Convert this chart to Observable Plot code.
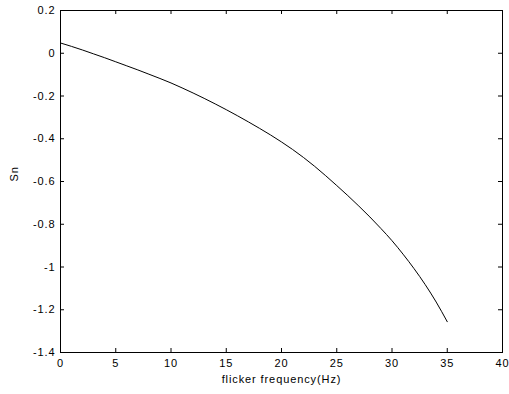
<!DOCTYPE html>
<html>
<head>
<meta charset="utf-8">
<script src="https://cdn.jsdelivr.net/npm/d3@7"></script>
<script src="https://cdn.jsdelivr.net/npm/@observablehq/plot@0.6"></script>
<style>
  html, body { margin: 0; padding: 0; background: #fff; }
  #chart { width: 509px; height: 394px; }
  #chart text { letter-spacing: 0.9px; }
</style>
</head>
<body>
<div id="chart"></div>
<script>
const freq = [0,1,2,3,4,5,6,7,8,9,10,11,12,13,14,15,16,17,18,19,20,21,22,23,24,25,26,27,28,29,30,31,32,33,34,35];
const sn = [0.048,0.032,0.015,-0.003,-0.021,-0.040,-0.059,-0.078,-0.098,-0.118,-0.139,-0.162,-0.186,-0.211,-0.237,-0.264,-0.292,-0.321,-0.351,-0.382,-0.415,-0.450,-0.488,-0.529,-0.573,-0.619,-0.666,-0.715,-0.766,-0.820,-0.877,-0.940,-1.008,-1.082,-1.164,-1.256];
const xTicks = [0,5,10,15,20,25,30,35,40];
const yTicks = [0.2,0,-0.2,-0.4,-0.6,-0.8,-1,-1.2,-1.4];
const xLabel = "flicker frequency(Hz)";
const yLabel = "Sn";

const data = freq.map((f, i) => ({f, s: sn[i]}));
const W = 509, H = 394;
const mL = 60, mR = 7, mT = 10, mB = 42;
const innerH = H - mT - mB, innerW = W - mL - mR;
const tickLen = 4;

const chart = Plot.plot({
  width: W,
  height: H,
  marginLeft: mL,
  marginRight: mR,
  marginTop: mT,
  marginBottom: mB,
  style: {fontFamily: "'Liberation Sans', Arial, sans-serif", fontSize: "11px", color: "#000", background: "#fff"},
  x: {domain: [0, 40], ticks: xTicks},
  y: {domain: [-1.4, 0.2], ticks: yTicks},
  marks: [
    Plot.frame({stroke: "#000"}),
    Plot.tickX(xTicks, {x: d => d, stroke: "#000", insetTop: innerH - tickLen}),
    Plot.tickX(xTicks, {x: d => d, stroke: "#000", insetBottom: innerH - tickLen}),
    Plot.tickY(yTicks, {y: d => d, stroke: "#000", insetRight: innerW - tickLen}),
    Plot.tickY(yTicks, {y: d => d, stroke: "#000", insetLeft: innerW - tickLen}),
    Plot.axisX(xTicks, {tickSize: 0, tickPadding: 7, label: null, tickFormat: d => String(d), fill: "#000"}),
    Plot.axisY(yTicks, {tickSize: 0, tickPadding: 5, label: null, tickFormat: d => String(+d.toFixed(1)), fill: "#000"}),
    Plot.line(data, {x: "f", y: "s", stroke: "#000", strokeWidth: 1, curve: "monotone-x"}),
    Plot.text([xLabel], {frameAnchor: "bottom", dy: 30, text: d => d, fill: "#000"}),
    Plot.text([yLabel], {frameAnchor: "left", dx: -46, rotate: -90, text: d => d, fill: "#000"})
  ]
});
document.getElementById("chart").appendChild(chart);
</script>
</body>
</html>
